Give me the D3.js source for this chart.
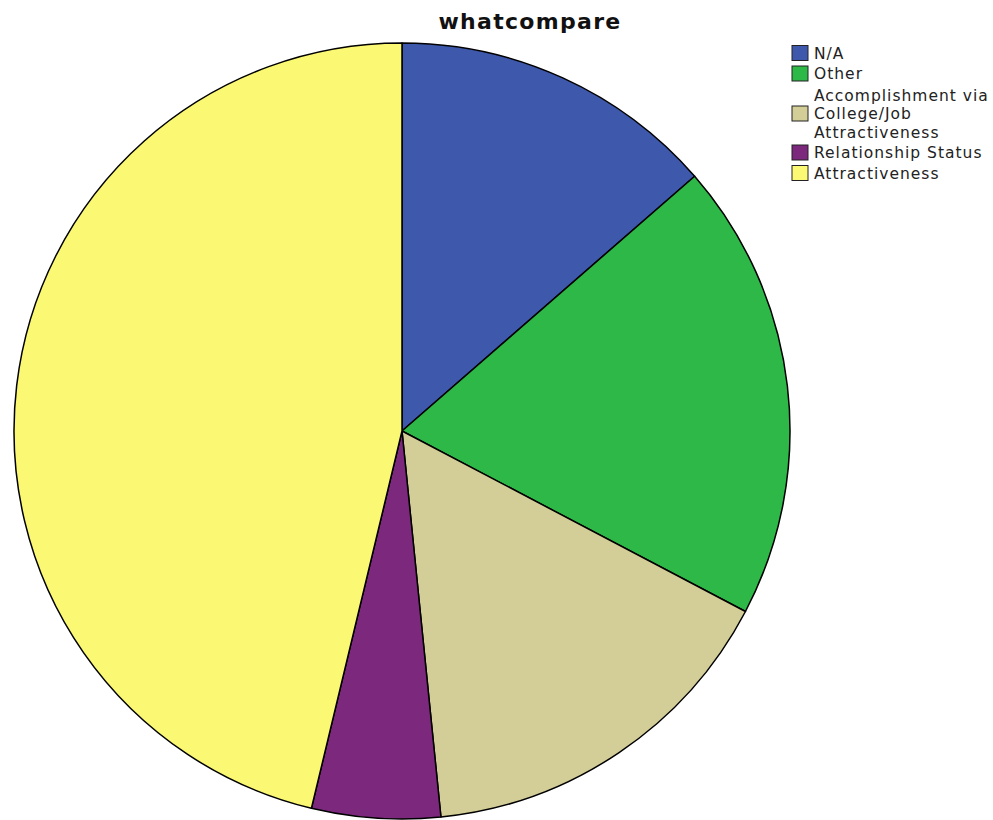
<!DOCTYPE html>
<html>
<head>
<meta charset="utf-8">
<script src="https://cdn.jsdelivr.net/npm/d3@7"></script>
<style>
  html, body { margin: 0; padding: 0; background: #fff; }
  svg { display: block; }
</style>
</head>
<body>
<svg id="chart" width="993" height="820"></svg>
<script>
// Response categories for "whatcompare" and their share of answers (%)
const categories = ["N/A", "Other", "Accomplishment via College/Job Attractiveness", "Relationship Status", "Attractiveness"];
const legendLines = [["N/A"], ["Other"], ["Accomplishment via", "College/Job", "Attractiveness"], ["Relationship Status"], ["Attractiveness"]];
const values = [13.6, 19.1, 15.7, 5.35, 46.25];
const colors = ["#3e58ac", "#2eb848", "#d3ce97", "#7c287d", "#fbf873"];

const svg = d3.select("#chart");
const cx = 402, cy = 431, r = 388;

// Title
svg.append("text")
  .attr("x", 530).attr("y", 29)
  .attr("text-anchor", "middle")
  .attr("font-family", "'DejaVu Sans', sans-serif")
  .attr("font-weight", "bold")
  .attr("font-size", 22)
  .attr("letter-spacing", 1.3)
  .attr("fill", "#111")
  .text("whatcompare");

// Pie, clockwise from 12 o'clock
const pie = d3.pie().sort(null).value(d => d.v);
const arc = d3.arc().innerRadius(0).outerRadius(r);
const data = categories.map((c, i) => ({ c, v: values[i], col: colors[i] }));

const g = svg.append("g").attr("transform", `translate(${cx},${cy})`);
g.selectAll("path")
  .data(pie(data))
  .join("path")
  .attr("d", arc)
  .attr("fill", d => d.data.col)
  .attr("stroke", "#000")
  .attr("stroke-width", 1.5)
  .attr("stroke-linejoin", "round");

// Legend
const legend = svg.append("g")
  .attr("font-family", "'DejaVu Sans', sans-serif")
  .attr("font-size", 15.5)
  .attr("letter-spacing", 1)
  .attr("fill", "#222");
const lineH = 18.5;
let y = 53;
legendLines.forEach((lines, i) => {
  const n = lines.length;
  const mid = y + (n - 1) * lineH / 2;
  legend.append("rect")
    .attr("x", 792).attr("y", mid - 7.5)
    .attr("width", 16).attr("height", 15)
    .attr("fill", colors[i])
    .attr("stroke", "#222").attr("stroke-width", 1);
  lines.forEach((t, j) => {
    legend.append("text")
      .attr("x", 814).attr("y", y + j * lineH)
      .attr("dy", "0.36em")
      .text(t);
  });
  y += n * lineH + (i === 1 ? 3 : 2);
});
</script>
</body>
</html>
